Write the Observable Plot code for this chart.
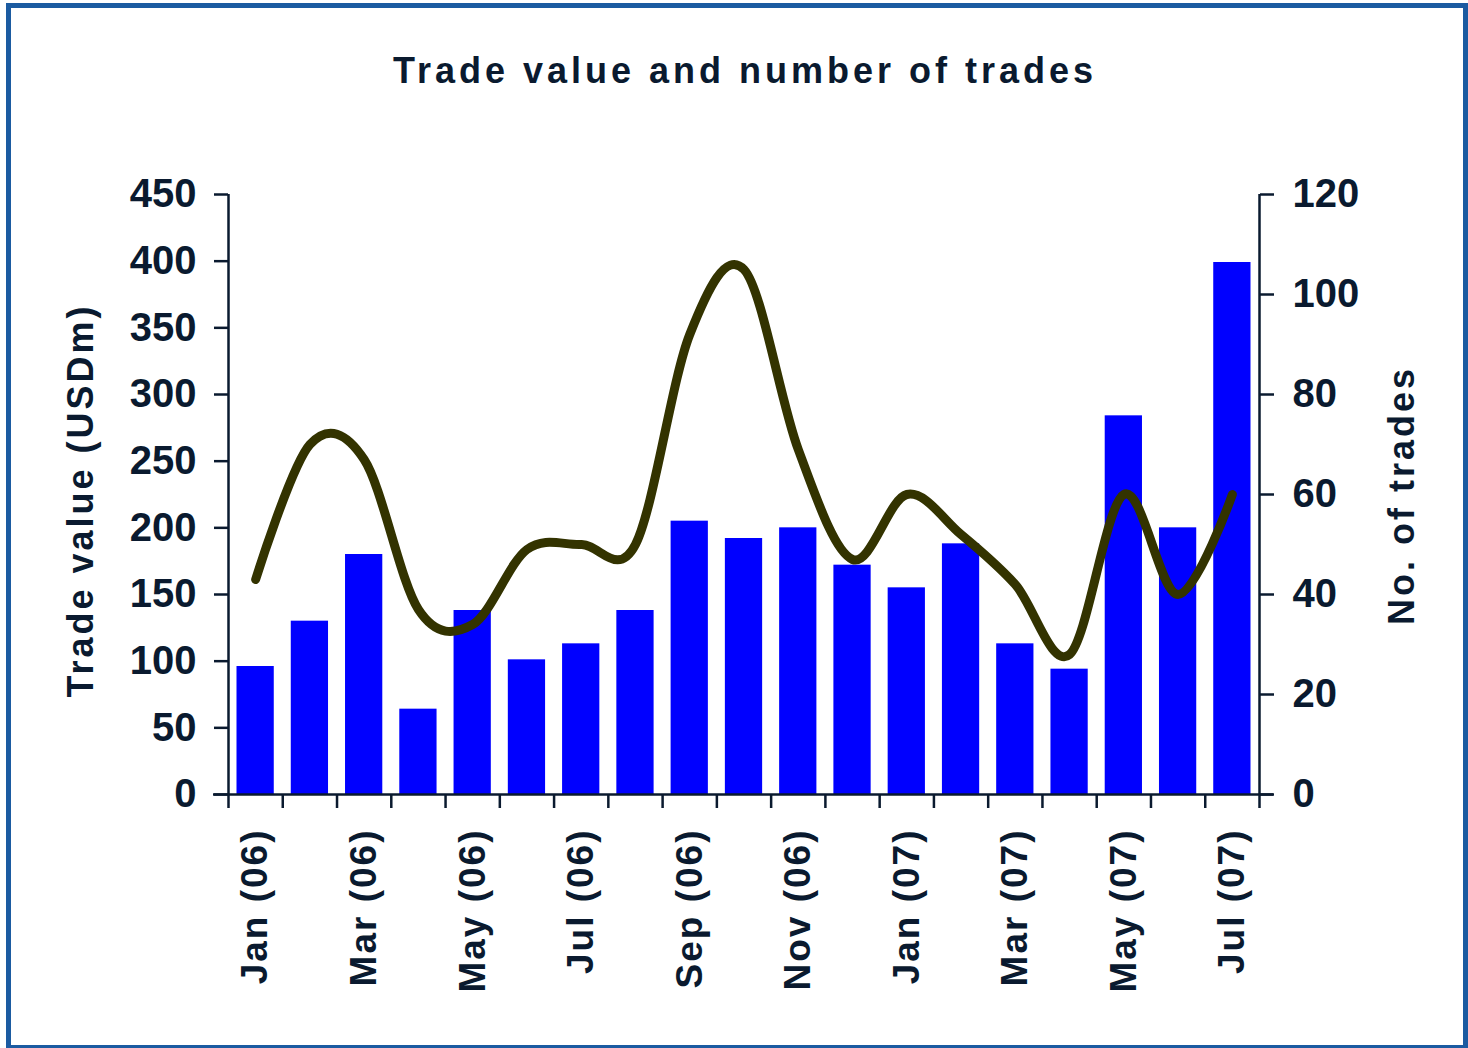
<!DOCTYPE html>
<html>
<head>
<meta charset="utf-8">
<script src="https://cdn.jsdelivr.net/npm/d3@7"></script>
<script src="https://cdn.jsdelivr.net/npm/@observablehq/plot@0.6"></script>
<style>
  html, body { margin: 0; padding: 0; background: #fff; }
  body { width: 1468px; height: 1048px; position: relative; overflow: hidden; font-family: "Liberation Sans", Arial, sans-serif; }
  #frame { position: absolute; left: 6px; top: 3px; width: 1462px; height: 1047px; box-sizing: border-box; border: 5px solid #1b5ba1; }
  #title { position: absolute; left: 0; width: 1490px; top: 50px; text-align: center; font-weight: bold; font-size: 36px; letter-spacing: 4px; color: #0a1a2f; }
  #chart { position: absolute; left: 0; top: 140px; }
  g[aria-label="x-axis tick label"] text { letter-spacing: 2px; }
  g[aria-label="text"] text { letter-spacing: 3px; }
</style>
</head>
<body>
<div id="frame"></div>
<div id="title">Trade value and number of trades</div>
<div id="chart"></div>
<script>
const months = ["Jan (06)","Feb (06)","Mar (06)","Apr (06)","May (06)","Jun (06)","Jul (06)","Aug (06)","Sep (06)","Oct (06)","Nov (06)","Dec (06)","Jan (07)","Feb (07)","Mar (07)","Apr (07)","May (07)","Jun (07)","Jul (07)"];
const tradeValue = [96,130,180,64,138,101,113,138,205,192,200,172,155,188,113,94,284,200,399];
const numTrades = [43,70,67,37,34,49,50,50,92,105,69,47,60,52,42,28,60,40,60];
const leftTicks = [0,50,100,150,200,250,300,350,400,450];
const rightTicks = [0,20,40,60,80,100,120];
const leftTitle = "Trade value (USDm)";
const rightTitle = "No. of trades";
const leftMax = 450, rightMax = 120;

const data = months.map((m, i) => ({i, month: m, value: tradeValue[i], trades: numTrades[i]}));
const k = leftMax / rightMax;
const ink = "#0a1a2f";

const chart = Plot.plot({
  width: 1468,
  height: 880,
  marginTop: 54,
  marginBottom: 226,
  marginLeft: 228,
  marginRight: 209,
  style: {fontFamily: '"Liberation Sans", Arial, sans-serif', fontWeight: "bold", color: ink, background: "transparent"},
  x: {domain: [0, months.length]},
  y: {domain: [0, leftMax]},
  marks: [
    Plot.rectY(data, {x1: "i", x2: d => d.i + 1, y: "value", fill: "#0000ff", insetLeft: 8.5, insetRight: 8.5}),
    Plot.line(data, {x: d => d.i + 0.5, y: d => d.trades * k, stroke: "#333300", strokeWidth: 9, curve: "cardinal", tension: 0, strokeLinecap: "round", strokeLinejoin: "round"}),
    Plot.ruleX([0, months.length], {stroke: ink, strokeWidth: 2.5}),
    Plot.ruleY([0], {stroke: ink, strokeWidth: 2.5, insetLeft: -15, insetRight: -14}),
    Plot.axisY({anchor: "left", ticks: leftTicks, tickSize: 14, tickPadding: 18, fontSize: 40, fontWeight: "bold", strokeWidth: 2.5, label: null, tickFormat: d => String(d)}),
    Plot.axisY(rightTicks.map(v => v * k), {anchor: "right", tickSize: 14, tickPadding: 19, fontSize: 40, fontWeight: "bold", strokeWidth: 2.5, label: null, tickFormat: d => String(Math.round(d / k))}),
    Plot.axisX({ticks: d3.range(0, months.length + 1), tickSize: 14, strokeWidth: 2.5, tickFormat: () => "", label: null}),
    Plot.axisX({ticks: d3.range(0, months.length, 2).map(i => i + 0.5), tickSize: 0, tickPadding: 34, tickRotate: -90, fontSize: 37, fontWeight: "bold", label: null, tickFormat: d => months[Math.floor(d)]}),
    Plot.text([leftTitle], {frameAnchor: "left", textAnchor: "middle", rotate: -90, dx: -147, dy: 6, fontSize: 36, fontWeight: "bold", fill: ink}),
    Plot.text([rightTitle], {frameAnchor: "right", textAnchor: "middle", rotate: -90, dx: 143, dy: 1, fontSize: 36, fontWeight: "bold", fill: ink})
  ]
});
document.getElementById("chart").appendChild(chart);
</script>
</body>
</html>
